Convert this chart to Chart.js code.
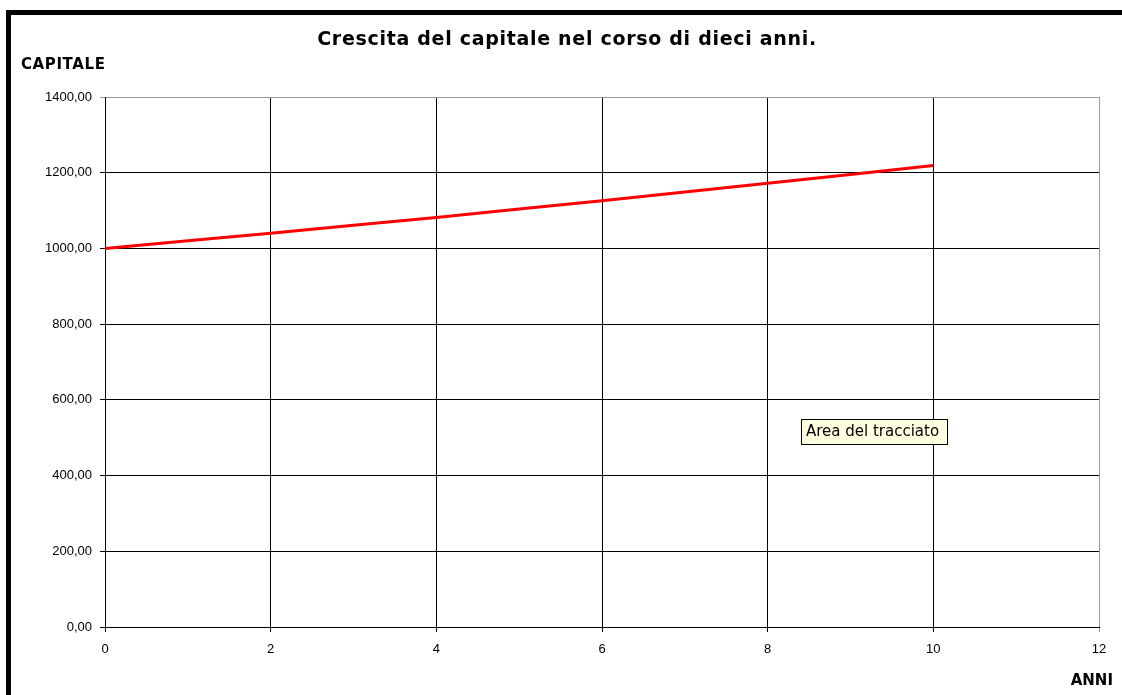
<!DOCTYPE html>
<html>
<head>
<meta charset="utf-8">
<script src="https://cdn.jsdelivr.net/npm/chart.js@4.4.1/dist/chart.umd.min.js"></script>
<style>
  html, body { margin: 0; padding: 0; background: #fff; }
  #wrap { width: 1122px; height: 695px; position: relative; }
</style>
</head>
<body>
<div id="wrap"><canvas id="capitaleChart" width="1122" height="695"></canvas></div>
<script>
// anni e capitale
const anni = [0, 1, 2, 3, 4, 5, 6, 7, 8, 9, 10];
const capitale = [1000, 1020, 1040, 1061, 1082, 1104, 1126, 1149, 1172, 1195, 1219];
const xTicks = [0, 2, 4, 6, 8, 10, 12];
const yTicks = [0, 200, 400, 600, 800, 1000, 1200, 1400];

const titolo = 'Crescita del capitale nel corso di dieci anni.';
const etichettaY = 'CAPITALE';
const etichettaX = 'ANNI';
const suggerimento = 'Area del tracciato';

// bordo, titolo ed etichette disegnati sopra il grafico
const decorazioni = {
    id: 'decorazioni',
    beforeDraw(chart) {
        const c = chart.ctx;
        c.save();
        c.fillStyle = '#fff';
        c.fillRect(0, 0, chart.width, chart.height);
        c.restore();
    },
    afterDraw(chart) {
        const c = chart.ctx;
        c.save();
        c.fillStyle = '#000';
        c.fillRect(6, 10, 5, chart.height - 10);
        c.fillRect(6, 10, chart.width - 6, 5);

        c.font = 'bold 19px "DejaVu Sans"';
        c.letterSpacing = '0.7px';
        c.textBaseline = 'alphabetic';
        c.textAlign = 'center';
        c.fillText(titolo, 567, 45);

        c.font = 'bold 15px "DejaVu Sans"';
        c.letterSpacing = '0.6px';
        c.textAlign = 'left';
        c.fillText(etichettaY, 21, 69);
        c.letterSpacing = '0px';
        c.textAlign = 'right';
        c.fillText(etichettaX, 1113, 685);

        // riquadro giallo del suggerimento
        c.fillStyle = '#ffffe1';
        c.fillRect(801, 419, 147, 26);
        c.strokeStyle = '#000';
        c.lineWidth = 1;
        c.strokeRect(801.5, 419.5, 146, 25);
        c.fillStyle = '#000';
        c.font = '15px "DejaVu Sans"';
        c.textAlign = 'left';
        c.textBaseline = 'middle';
        c.fillText(suggerimento, 806, 432);
        c.restore();
    }
};

const ctx = document.getElementById('capitaleChart').getContext('2d');

new Chart(ctx, {
    type: 'line',
    data: {
        datasets: [{
            label: 'Capitale',
            data: anni.map((a, i) => ({ x: a, y: capitale[i] })),
            borderColor: '#ff0000',
            borderWidth: 3,
            pointRadius: 0,
            tension: 0,
            fill: false
        }]
    },
    options: {
        responsive: false,
        animation: false,
        layout: {
            padding: { top: 97, left: 0, right: 23, bottom: 0 }
        },
        plugins: {
            legend: { display: false },
            title: { display: false },
            tooltip: { enabled: false }
        },
        scales: {
            x: {
                type: 'linear',
                min: 0,
                max: 12,
                afterFit(scale) { scale.height = 68; },
                afterBuildTicks(scale) { scale.ticks = xTicks.map(v => ({ value: v })); },
                grid: {
                    color: c => (c.tick && c.tick.value === 12) ? '#9a9a9a' : '#000',
                    lineWidth: 1,
                    tickLength: 5,
                    drawTicks: true
                },
                border: { color: '#000', width: 1 },
                ticks: {
                    color: '#000',
                    padding: 10,
                    maxRotation: 0,
                    font: { family: '"Liberation Sans"', size: 13 }
                }
            },
            y: {
                type: 'linear',
                min: 0,
                max: 1400,
                afterFit(scale) { scale.width = 105; },
                afterBuildTicks(scale) { scale.ticks = yTicks.map(v => ({ value: v })); },
                grid: {
                    color: c => (c.tick && c.tick.value === 1400) ? '#9a9a9a' : '#000',
                    lineWidth: 1,
                    tickLength: 5
                },
                border: { color: '#000', width: 1 },
                ticks: {
                    color: '#000',
                    padding: 8,
                    font: { family: '"Liberation Sans"', size: 13 },
                    callback: v => v.toFixed(2).replace('.', ',')
                }
            }
        }
    },
    plugins: [decorazioni]
});
</script>
</body>
</html>
